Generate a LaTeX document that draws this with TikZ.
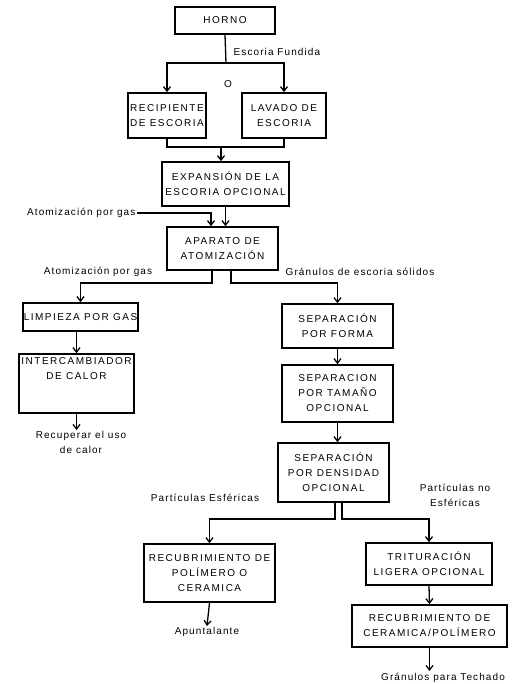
\documentclass[tikz,border=0pt]{standalone}
\usepackage{fontspec}
\setmainfont{Liberation Sans}[LetterSpace=11]
\newfontfamily\boxfont{Liberation Sans}[LetterSpace=15]
\usetikzlibrary{arrows.meta}
\begin{document}
\begin{tikzpicture}[x=1pt, y=-1pt, >={Straight Barb[length=4.5pt,width=7pt]},
  proc/.style={draw, line width=1.7pt, inner sep=0pt, align=center, font=\boxfont\fontsize{10}{15}\selectfont},
  lbl/.style={inner sep=1pt, align=center, font=\fontsize{10}{15}\selectfont},
  every path/.style={line width=1.3pt}]
\useasboundingbox (0,0) rectangle (519,684);

% boxes
\node[proc, minimum width=100, minimum height=27] (horno) at (225,20.5) {HORNO};
\node[proc, minimum width=78, minimum height=45] (recip) at (167,115.5) {RECIPIENTE\\DE ESCORIA};
\node[proc, minimum width=84, minimum height=45] (lavado) at (284,115.5) {LAVADO DE\\ESCORIA};
\node[proc, minimum width=127, minimum height=44] (expan) at (225.5,184) {EXPANSIÓN DE LA\\ESCORIA OPCIONAL};
\node[proc, minimum width=111, minimum height=43] (aparato) at (222.5,248.5) {APARATO DE\\ATOMIZACIÓN};
\node[proc, minimum width=115, minimum height=28] (limpieza) at (80.5,317) {LIMPIEZA POR GAS};
\node[proc, minimum width=115, minimum height=59] (intercamb) at (76.5,383.5) {INTERCAMBIADOR\\DE CALOR\\~\\~};
\node[proc, minimum width=111, minimum height=44] (forma) at (337.5,326) {SEPARACIÓN\\POR FORMA};
\node[proc, minimum width=111, minimum height=57] (tamano) at (337.5,393.5) {SEPARACION\\POR TAMAÑO\\OPCIONAL};
\node[proc, minimum width=111, minimum height=59] (densidad) at (333.5,472.5) {SEPARACIÓN\\POR DENSIDAD\\OPCIONAL};
\node[proc, minimum width=131, minimum height=58] (recpol) at (209.5,573) {RECUBRIMIENTO DE\\POLÍMERO O\\CERAMICA};
\node[proc, minimum width=126, minimum height=42] (tritur) at (429,564) {TRITURACIÓN\\LIGERA OPCIONAL};
\node[proc, minimum width=155, minimum height=42] (recer) at (429.5,626) {RECUBRIMIENTO DE\\CERAMICA/POLÍMERO};

% labels
\node[lbl, anchor=west] (fundida) at (232,52) {Escoria Fundida};
\node[lbl] (o) at (228,84) {O};
\node[lbl, anchor=east] (gasin) at (137,213) {Atomización por gas};
\node[lbl] (gasout) at (98,272) {Atomización por gas};
\node[lbl] (granulos) at (360,272) {Gránulos de escoria sólidos};
\node[lbl, anchor=north] (calor) at (81,430) {Recuperar el uso\\de calor};
\node[lbl] (esfer) at (205,498) {Partículas Esféricas};
\node[lbl] (noesfer) at (455,495) {Partículas no\\Esféricas};
\node[lbl, anchor=north] (apunt) at (207,626) {Apuntalante};
\node[lbl, anchor=north] (techado) at (443,671) {Gránulos para Techado};

% junctions
\coordinate (s1) at (226,63);
\coordinate (j1) at (221,147);
\coordinate (g2) at (211,213);
\coordinate (a1) at (212,283);
\coordinate (a2) at (231,283);
\coordinate (d1) at (335,519);
\coordinate (d2) at (342,519);

% connectors
\draw (horno.south) -- (s1);
\draw[->] (s1) -| (recip.north);
\draw[->] (s1) -| (lavado.north);
\draw (recip.south) |- (j1) -| (lavado.south);
\draw[->] (j1) -- (j1 |- expan.north);
\draw[->] (expan.south) -- (expan.south |- aparato.north);
\draw[->] (gasin.east) -- (g2) -- (g2 |- aparato.north);
\draw[->] (a1 |- aparato.south) -- (a1) -| (limpieza.north);
\draw[->] (a2 |- aparato.south) -- (a2) -| (forma.north);
\draw[->] (intercamb.north |- limpieza.south) -- (intercamb.north);
\draw[->] (intercamb.south) -- (intercamb.south |- calor.north);
\draw[->] (forma.south) -- (tamano.north);
\draw[->] (tamano.south) -- (tamano.south |- densidad.north);
\draw[->] (d1 |- densidad.south) -- (d1) -| (recpol.north);
\draw[->] (d2 |- densidad.south) -- (d2) -| (tritur.north);
\draw[->] (recpol.south) -- (apunt.north);
\draw[->] (tritur.south) -- (recer.north);
\draw[->] (recer.south) -- (recer.south |- techado.north);
\end{tikzpicture}
\end{document}
